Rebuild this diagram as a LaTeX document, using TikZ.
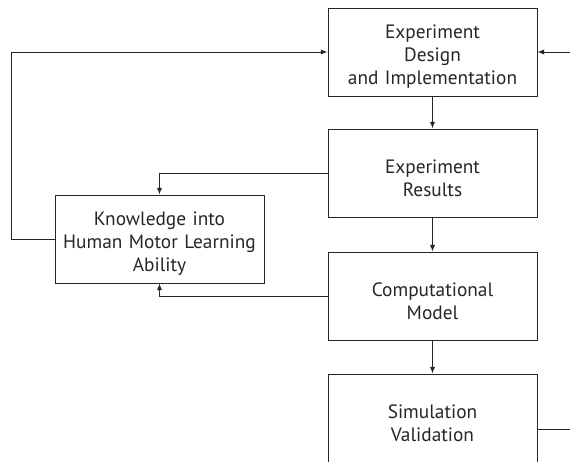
\documentclass[tikz,border=0pt]{standalone}
\usepackage{fontspec}
\setmainfont{PT Sans}
\usetikzlibrary{arrows.meta}
\tikzset{every picture/.style={line width=0.75pt}}
\tikzset{
  blockbox/.style={draw=black!85, minimum width=156.75pt, minimum height=66pt, text width=150pt, align=center, inner sep=0pt, text=black!85, font=\fontsize{14.5}{17.25}\selectfont, execute at begin node={\rule{0pt}{17.5pt}}},
  flowarrow/.style={draw=black!85, -{Latex[length=5pt,width=4pt]}},
  flowline/.style={draw=black!85}
}

\begin{document}
\begin{tikzpicture}[x=0.75pt,y=0.75pt,yscale=-1,xscale=1]
    \useasboundingbox (0,0) rectangle (570,461);
    
    %Blocks
    \node[blockbox] (design) at (432.5,52) {Experiment\\Design\\and Implementation};
    \node[blockbox] (results) at (432.5,173) {Experiment\\Results};
    \node[blockbox] (model) at (432.5,296) {Computational\\Model};
    \node[blockbox] (simval) at (432.5,418) {Simulation\\Validation};
    \node[blockbox] (knowledge) at (159.5,239) {Knowledge into\\Human Motor Learning\\Ability};
    %Free ends at the right edge
    \coordinate (rightin) at (575,52);
    \coordinate (rightout) at (575,429);
    
    %Main flow
    \draw[flowarrow] (design) -- (results);
    \draw[flowarrow] (results) -- (model);
    \draw[flowarrow] (model) -- (simval);
    %Feedback into knowledge
    \draw[flowarrow] (results.west) -| (knowledge.north);
    \draw[flowarrow] (model.west) -| (knowledge.south);
    %Knowledge back to design
    \draw[flowarrow] (knowledge.west) -- ++(-43.5,0) |- (design.west);
    %Loop along the right edge
    \draw[flowarrow] (rightin) -- (design.east);
    \draw[flowline] (rightout -| simval.east) -- (rightout);
    
\end{tikzpicture}
\end{document}
